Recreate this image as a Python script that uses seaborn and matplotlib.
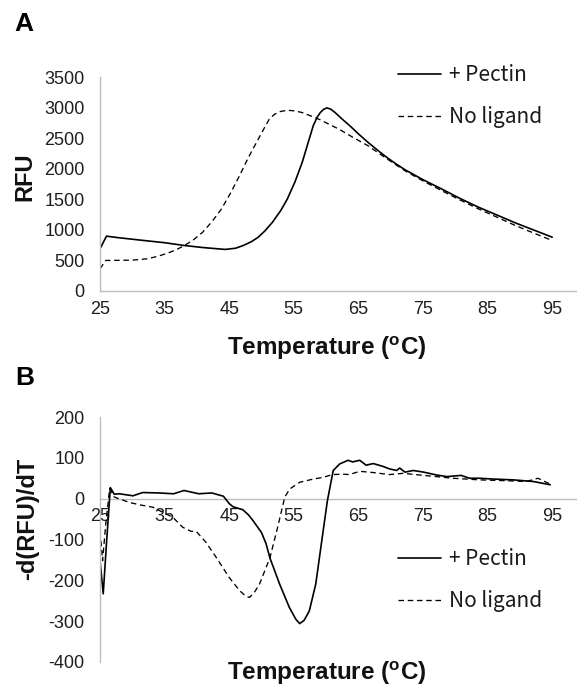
import matplotlib
matplotlib.use("Agg")
import numpy as np
import pandas as pd
import seaborn as sns
import matplotlib.pyplot as plt

# ---------------- data ----------------
# Panel A: raw melt curves (RFU)
temp_a_pectin = [25, 26, 28, 31.8, 35, 38, 41, 44.4, 46, 47.2, 48.5, 49.5, 50.5, 51.7, 53, 54,
                 55.2, 56.3, 57.2, 58, 58.6, 59.1, 59.6, 60.1, 60.7, 61.4, 62.5, 63.7, 65, 66.5,
                 68, 69.4, 70.8, 72.2, 75, 77.9, 80.7, 83.6, 86.5, 89.3, 92.2, 95]
rfu_a_pectin = [690, 897, 870, 826, 790, 745, 710, 680, 700, 745, 810, 880, 980, 1125, 1320, 1505,
                1790, 2103, 2420, 2700, 2840, 2918, 2970, 2995, 2975, 2918, 2810, 2700, 2570, 2430,
                2300, 2185, 2080, 1984, 1820, 1668, 1515, 1370, 1240, 1114, 995, 880]

temp_a_noligand = [25, 25.9, 26.7, 30, 32.4, 34, 35.2, 36.7, 38.1, 39.5, 40.9, 42.3, 43.8, 45.2,
                   46.6, 48, 49.5, 50.4, 51.2, 52, 52.9, 54, 55.2, 56.3, 57.7, 59.1, 60.5, 62,
                   64.2, 66.5, 69.3, 72.2, 75, 77.9, 80.7, 83.6, 86.5, 89.3, 92.2, 95]
rfu_a_noligand = [364, 500, 500, 505, 527, 570, 609, 670, 745, 840, 962, 1130, 1342, 1600,
                  1886, 2190, 2484, 2660, 2810, 2890, 2935, 2957, 2945, 2918, 2860, 2800, 2725, 2647,
                  2510, 2375, 2170, 1967, 1800, 1641, 1490, 1342, 1205, 1071, 945, 826]

# Panel B: first derivative -d(RFU)/dT
temp_b_pectin = [25, 25.5, 26.0, 26.6, 27.2, 28, 30.1, 31.6, 34.1, 36.4, 38, 40.3, 42.3, 44.1,
                 45, 45.6, 47.1, 48, 48.7, 50, 50.7, 51.3, 52.8, 54.3, 55.3, 55.9, 56.6, 57.4,
                 58.4, 59.4, 60.2, 61.1, 62.1, 63.4, 64.1, 65.2, 66.2, 67.3, 68.8, 69.8, 70.9,
                 71.4, 72.2, 73.5, 75.1, 77.1, 78.7, 80.9, 82.2, 83.7, 85.9, 89, 92.1, 94.7]
deriv_b_pectin = [-151, -233, -110, 27, 11, 12, 7, 15, 14, 12, 20, 12, 14, 6,
                  -12, -20, -27, -40, -54, -83, -110, -145, -209, -266, -295, -306, -298, -275,
                  -209, -95, -5, 69, 85, 94, 90, 94, 82, 86, 79, 73, 69,
                  75, 65, 69, 65, 58, 54, 57, 50, 50, 48, 46, 42, 34]

temp_b_noligand = [25.15, 25.4, 25.9, 26.5, 27.2, 29.5, 31.1, 33.2, 36.3, 37.8, 39.1, 39.9, 41.4,
                   43, 45, 46.6, 47.5, 48.1, 48.8, 49.7, 51.3, 52.5, 53.6, 54.4, 55.9, 58, 59.5,
                   61, 62.6, 63.6, 65.2, 67.3, 69.8, 71.9, 74.5, 77.1, 79.6, 83.8, 87.9, 91, 92.8,
                   94.1, 94.7]
deriv_b_noligand = [-103, -152, -60, 25, 4, -9, -15, -21, -46, -70, -80, -80, -107,
                    -144, -193, -225, -238, -242, -232, -209, -145, -70, 4, 24, 40, 48, 52,
                    59, 60, 59, 67, 64, 59, 62, 58, 54, 50, 46, 44, 42, 50,
                    40, 36]

series_labels = ["+ Pectin", "No ligand"]
x_ticks = [25, 35, 45, 55, 65, 75, 85, 95]
yticks_a = [0, 500, 1000, 1500, 2000, 2500, 3000, 3500]
yticks_b = [-400, -300, -200, -100, 0, 100, 200]

# ---------------- style ----------------
sns.set_theme(style="white")
plt.rcParams["font.family"] = ["Liberation Sans", "DejaVu Sans"]
plt.rcParams["mathtext.fontset"] = "custom"
plt.rcParams["mathtext.rm"] = "Liberation Sans"
plt.rcParams["mathtext.bf"] = "Liberation Sans:bold"
plt.rcParams["axes.unicode_minus"] = False

W, H = 577, 689
fig = plt.figure(figsize=(W / 100, H / 100), dpi=100)

left_px = 100
px_per_deg = 6.46
x_max = 25 + (W - left_px) / px_per_deg

axA = fig.add_axes([left_px / W, 1 - 291 / H, 1 - left_px / W, (291 - 77) / H])
axB = fig.add_axes([left_px / W, 1 - 662 / H, 1 - left_px / W, (662 - 417) / H])

spine_col = "#bdbdbd"
tick_col = "#1f1f1f"
solid_lw = 1.2
dash_lw = 0.95
dash_pat = (4.2, 2.8)


def draw(ax, tp, vp, tn, vn):
    sns.lineplot(x=tp, y=vp, ax=ax, color="black", lw=solid_lw, label=series_labels[0],
                 sort=False, estimator=None)
    sns.lineplot(x=tn, y=vn, ax=ax, color="black", lw=dash_lw, label=series_labels[1],
                 sort=False, estimator=None, dashes=False)
    ax.lines[-1].set_dashes(dash_pat)
    ax.set_xlim(25, x_max)
    ax.set_xticks(x_ticks)
    ax.set_xticklabels([str(t) for t in x_ticks])
    ax.set_xlabel("")
    ax.set_ylabel("")
    for s in ["top", "right"]:
        ax.spines[s].set_visible(False)
    for s in ["left", "bottom"]:
        ax.spines[s].set_color(spine_col)
        ax.spines[s].set_linewidth(1.0)
    ax.tick_params(axis="both", length=0, labelsize=13, colors=tick_col)
    ax.tick_params(axis="y", pad=11)
    ax.tick_params(axis="x", pad=7)
    ax.set_facecolor("none")


draw(axA, temp_a_pectin, rfu_a_pectin, temp_a_noligand, rfu_a_noligand)
axA.set_ylim(0, 3500)
axA.set_yticks(yticks_a)
axA.set_yticklabels([str(v) for v in yticks_a])

draw(axB, temp_b_pectin, deriv_b_pectin, temp_b_noligand, deriv_b_noligand)
axB.set_ylim(-400, 200)
axB.set_yticks(yticks_b)
axB.set_yticklabels([str(v) for v in yticks_b])
axB.spines["bottom"].set_position(("data", 0))
axB.spines["bottom"].set_zorder(0)

# legends
leg_font = {"family": ["Noto Sans CJK JP", "DejaVu Sans"], "size": 15}
for ax, ytop in [(axA, 62), (axB, 546)]:
    leg = ax.legend(loc="upper left", bbox_to_anchor=(398 / W, 1 - (ytop + 2) / H),
                    bbox_transform=fig.transFigure, frameon=False, prop=leg_font,
                    handlelength=2.05, handletextpad=0.4, borderpad=0, borderaxespad=0,
                    labelspacing=0.98)
    for t in leg.get_texts():
        t.set_color("#1a1a1a")

# axis labels
xlab_kw = dict(fontsize=17.5, fontweight="bold", color="#111111")
ylab_kw = dict(fontsize=17, fontweight="bold", color="#111111")
fig.text(327 / W, 1 - 355 / H, r"Temperature ($^{\mathbf{o}}$C)", ha="center", va="baseline", **xlab_kw)
fig.text(327 / W, 1 - 680 / H, r"Temperature ($^{\mathbf{o}}$C)", ha="center", va="baseline", **xlab_kw)
fig.text(25 / W, 1 - 177 / H, "RFU", rotation=90, ha="center", va="center", **ylab_kw)
fig.text(28 / W, 1 - 519 / H, "-d(RFU)/dT", rotation=90, ha="center", va="center", **ylab_kw)

# panel letters
fig.text(14 / W, 1 - 31 / H, "A", ha="left", va="baseline", fontsize=19, fontweight="bold", color="black")
fig.text(15 / W, 1 - 385 / H, "B", ha="left", va="baseline", fontsize=19, fontweight="bold", color="black")

fig.savefig("out.png", dpi=100, facecolor="white")
